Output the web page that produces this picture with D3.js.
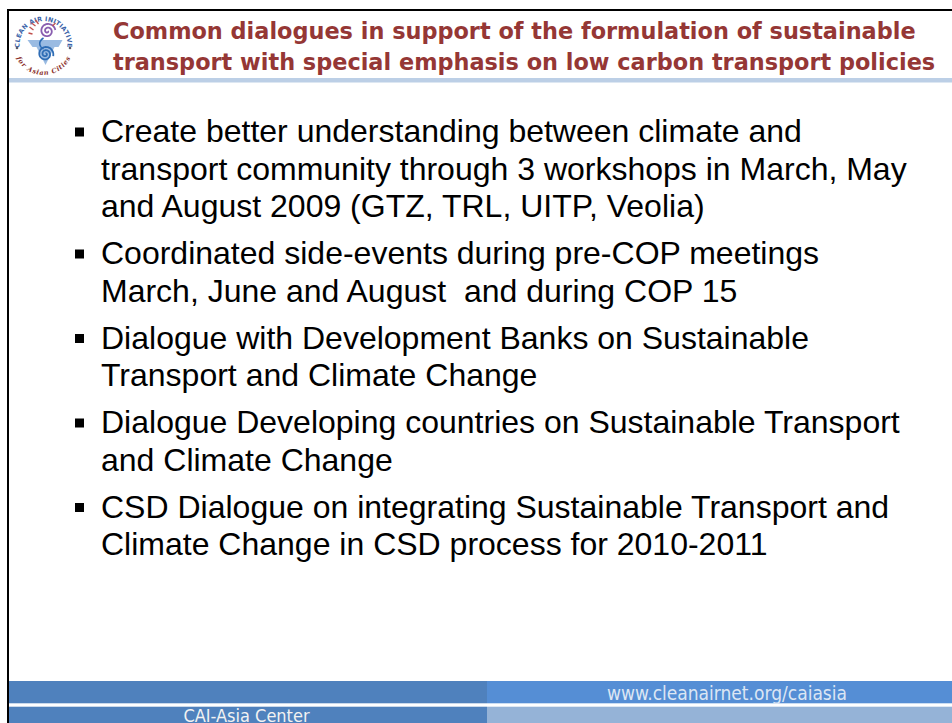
<!DOCTYPE html>
<html><head><meta charset="utf-8">
<script src="https://cdn.jsdelivr.net/npm/d3@7"></script>
<style>html,body{margin:0;padding:0;background:#fff;overflow:hidden}</style>
</head><body>
<script>
const titleLines = [
  "Common dialogues in support of the formulation of sustainable",
  "transport with special emphasis on low carbon transport policies"
];
const bullets = [
  ["Create better understanding between climate and",
   "transport community through 3 workshops in March, May",
   "and August 2009 (GTZ, TRL, UITP, Veolia)"],
  ["Coordinated side-events during pre-COP meetings",
   "March, June and August  and during COP 15"],
  ["Dialogue with Development Banks on Sustainable",
   "Transport and Climate Change"],
  ["Dialogue Developing countries on Sustainable Transport",
   "and Climate Change"],
  ["CSD Dialogue on integrating Sustainable Transport and",
   "Climate Change in CSD process for 2010-2011"]
];
const footerLeft = "CAI-Asia Center";
const footerRight = "www.cleanairnet.org/caiasia";
const logoTop = "CLEAN AIR INITIATIVE";
const logoBottom = "for Asian Cities";

const W = 952, H = 723;
const svg = d3.select("body").append("svg").attr("width", W).attr("height", H)
  .style("display","block");

// frame lines
svg.append("rect").attr("x",7).attr("y",9).attr("width",W-7).attr("height",2).attr("fill","#000");
svg.append("rect").attr("x",7).attr("y",9).attr("width",2).attr("height",H-9).attr("fill","#000");
// title underline band
svg.append("rect").attr("x",9).attr("y",78).attr("width",W-9).attr("height",4.5).attr("fill","#bccfe6");

// title
const titleY = d3.scaleLinear().domain([0,1]).range([39,70]);
svg.append("g").selectAll("text").data(titleLines).join("text")
  .attr("x",113).attr("y",(d,i)=>titleY(i))
  .attr("fill","#953735")
  .style("font-family","'DejaVu Sans',sans-serif")
  .style("font-weight","bold").style("font-size","22.4px")
  .text(d=>d);

// body lines
const lines = [];
let li = 0;
bullets.forEach((b,bi)=>{ b.forEach((t,k)=>{ lines.push({t, bi, first:k===0, li}); li++; }); });
const lineY = d3.scaleLinear().domain([0,1]).range([142,179.5]);
const gap = 9.5;
const yOf = d => lineY(d.li) + d.bi*gap;
const body = svg.append("g");
body.selectAll("text").data(lines).join("text")
  .attr("x",101).attr("y",yOf)
  .attr("fill","#000")
  .style("font-family","'Liberation Sans',Arial,sans-serif")
  .style("font-size","32px").style("white-space","pre")
  .text(d=>d.t);
body.selectAll("rect").data(lines.filter(d=>d.first)).join("rect")
  .attr("x",75).attr("y",d=>yOf(d)-14.5).attr("width",9).attr("height",9).attr("fill","#000");

// footer
svg.append("rect").attr("x",9).attr("y",681).attr("width",478).attr("height",22.3).attr("fill","#4f81bd");
svg.append("rect").attr("x",9).attr("y",706.7).attr("width",478).attr("height",17).attr("fill","#4f81bd");
svg.append("rect").attr("x",487).attr("y",681).attr("width",W-487).attr("height",22.3).attr("fill","#558ed5");
svg.append("rect").attr("x",487).attr("y",706.7).attr("width",W-487).attr("height",17).attr("fill","#95b3d7");
svg.append("text").attr("x",727).attr("y",700).attr("text-anchor","middle")
  .attr("fill","#dce6f4")
  .style("font-family","'DejaVu Sans Condensed','DejaVu Sans',sans-serif")
  .style("font-stretch","condensed").style("font-size","19px")
  .text(footerRight);
svg.append("text").attr("x",246.5).attr("y",722).attr("text-anchor","middle")
  .attr("fill","#f2f2f2")
  .style("font-family","'DejaVu Sans Condensed','DejaVu Sans',sans-serif")
  .style("font-stretch","condensed").style("font-size","18px")
  .text(footerLeft);

// logo
const lg = svg.append("g").attr("transform","translate(43.5,45)");
lg.append("circle").attr("r",31).attr("fill","#fff");
const defs = svg.append("defs");
const rT = 24, rB = 25;
defs.append("path").attr("id","arcTop")
  .attr("d", `M ${-rT*Math.cos(0.35)},${rT*Math.sin(0.35)} A ${rT},${rT} 0 1,1 ${rT*Math.cos(0.35)},${rT*Math.sin(0.35)}`);
defs.append("path").attr("id","arcBot")
  .attr("d", `M ${-rB},0 A ${rB},${rB} 0 0,0 ${rB},0`);
lg.append("text").attr("fill","#3a63a8")
  .style("font-family","'DejaVu Sans',sans-serif").style("font-weight","bold")
  .style("font-size","6.3px").style("letter-spacing","0.2px")
  .append("textPath").attr("href","#arcTop").attr("startOffset","50%").attr("text-anchor","middle")
  .text(logoTop);
lg.append("text").attr("fill","#8a2f2a").attr("dy",5)
  .style("font-family","'DejaVu Serif',serif").style("font-weight","bold").style("font-style","italic")
  .style("font-size","6.5px")
  .append("textPath").attr("href","#arcBot").attr("startOffset","50%").attr("text-anchor","middle")
  .text(logoBottom);
lg.selectAll("circle.dot").data([-1,1]).join("circle").attr("class","dot")
  .attr("cx",d=>d*26.5).attr("cy",3).attr("r",1.3).attr("fill","#5a5a6a");
// chevron
lg.append("path").attr("d","M -16,-5 L 19,-5 L 15,2 L 11,2 L 2,20 L -7,2 L -11,2 Z")
  .attr("fill","#8fb4df").attr("opacity",0.9);
// spirals
const spiral = (turns, r0, r1) => {
  const pts = d3.range(0, turns*2*Math.PI, 0.15).map(a => [a, r0 + (r1-r0)*a/(turns*2*Math.PI)]);
  return d3.lineRadial().curve(d3.curveBasis)(pts);
};
lg.append("path").attr("transform","translate(2,9)").attr("d",spiral(2.3,0.5,8))
  .attr("fill","none").attr("stroke","#2f6db5").attr("stroke-width",1.8);
lg.append("path").attr("transform","translate(4,-14) rotate(90)").attr("d",spiral(2,0.5,8))
  .attr("fill","none").attr("stroke","#8a5fb0").attr("stroke-width",1.8);
lg.append("path").attr("d","M 0,-7 C -6,-3 -4,2 0,4")
  .attr("fill","none").attr("stroke","#2f6db5").attr("stroke-width",1.6);
const rays = [[-14,-18,-10,-15],[-12,-22,-8,-19],[-8,-25,-5,-21],[-15,-12,-11,-11],[12,-22,9,-19]];
lg.selectAll("line.ray").data(rays).join("line").attr("class","ray")
  .attr("x1",d=>d[0]).attr("y1",d=>d[1]).attr("x2",d=>d[2]).attr("y2",d=>d[3])
  .attr("stroke","#c0504d").attr("stroke-width",1.3);
</script>
</body></html>
